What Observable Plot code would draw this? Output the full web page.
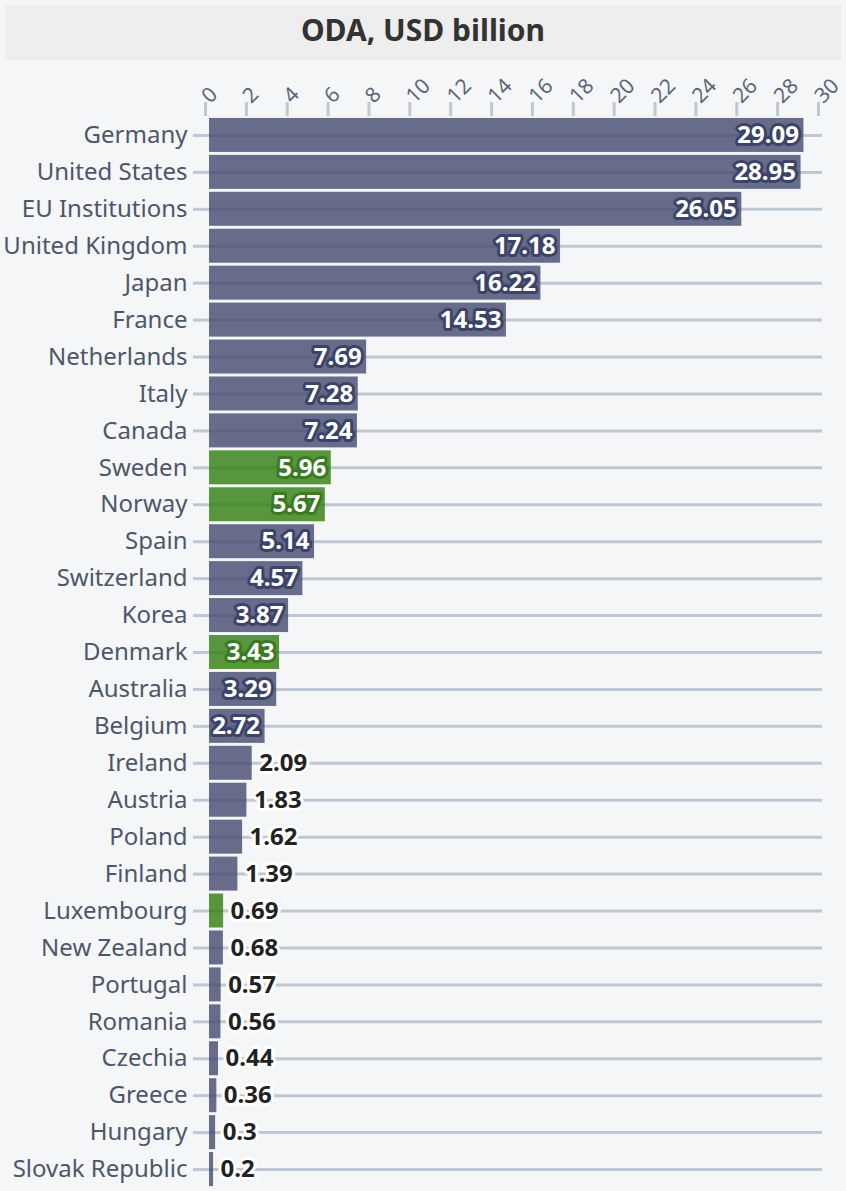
<!DOCTYPE html>
<html>
<head>
<meta charset="utf-8">
<script src="https://cdn.jsdelivr.net/npm/d3@7"></script>
<script src="https://cdn.jsdelivr.net/npm/@observablehq/plot@0.6"></script>
<style>
  html, body { margin: 0; padding: 0; background: #f5f6f8; }
  body { width: 846px; font-family: "Noto Sans", sans-serif; }
  #title {
    margin: 5px 5px 0 5px; height: 55px; line-height: 50px;
    background: #eeeeee; color: #333333; text-align: center;
    font-size: 30px; font-weight: bold;
  }
  #chart svg { display: block; }
</style>
</head>
<body>
<div id="title">ODA, USD billion</div>
<div id="chart"></div>
<script>
const countries = ["Germany","United States","EU Institutions","United Kingdom","Japan","France","Netherlands","Italy","Canada","Sweden","Norway","Spain","Switzerland","Korea","Denmark","Australia","Belgium","Ireland","Austria","Poland","Finland","Luxembourg","New Zealand","Portugal","Romania","Czechia","Greece","Hungary","Slovak Republic"];
const values = [29.09,28.95,26.05,17.18,16.22,14.53,7.69,7.28,7.24,5.96,5.67,5.14,4.57,3.87,3.43,3.29,2.72,2.09,1.83,1.62,1.39,0.69,0.68,0.57,0.56,0.44,0.36,0.3,0.2];
const highlighted = ["Sweden","Norway","Denmark","Luxembourg"];
const xTicks = [0,2,4,6,8,10,12,14,16,18,20,22,24,26,28,30];
const insideThreshold = 2.5;

const data = countries.map((c, i) => ({
  country: c,
  value: values[i],
  group: highlighted.includes(c) ? "green" : "default",
  inside: values[i] >= insideThreshold
}));

const gray = "#bfc7d3";
const chart = Plot.plot({
  width: 846,
  height: 1131,
  marginLeft: 209,
  marginRight: 24,
  marginTop: 55,
  marginBottom: 2,
  style: { background: "transparent", fontFamily: "Noto Sans", overflow: "visible" },
  x: { domain: [0, 30] },
  y: { domain: countries, padding: 0.08, round: false, label: null },
  color: { domain: ["default", "green"], range: ["#444a6f", "#307e0d"] },
  marks: [
    Plot.gridY({ stroke: gray, strokeWidth: 3, strokeOpacity: 1 }),
    Plot.axisY({ tickSize: 16, tickPadding: 6, stroke: gray, strokeWidth: 3, strokeOpacity: 1, fill: "#4e5669", fontSize: 24, label: null }),
    Plot.axisX({ anchor: "top", ticks: xTicks, tickRotate: -45, tickSize: 14, tickPadding: 2, dx: -4, stroke: gray, strokeWidth: 3, strokeOpacity: 1, fill: "#5d6577", fontSize: 21, label: null }),
    Plot.barX(data, { x: "value", y: "country", fill: "group", fillOpacity: 0.8 }),
    Plot.text(data.filter(d => d.inside), {
      x: "value", y: "country", text: d => String(d.value),
      textAnchor: "end", dx: -5, fill: "white",
      stroke: d => d.group === "green" ? "#3b7a22" : "#3d4367", strokeWidth: 6,
      fontSize: 24, fontWeight: "bold"
    }),
    Plot.text(data.filter(d => !d.inside), {
      x: "value", y: "country", text: d => String(d.value),
      textAnchor: "start", dx: 7, fill: "#222222",
      stroke: "white", strokeWidth: 6,
      fontSize: 24, fontWeight: "bold"
    })
  ]
});
document.getElementById("chart").appendChild(chart);
</script>
</body>
</html>
